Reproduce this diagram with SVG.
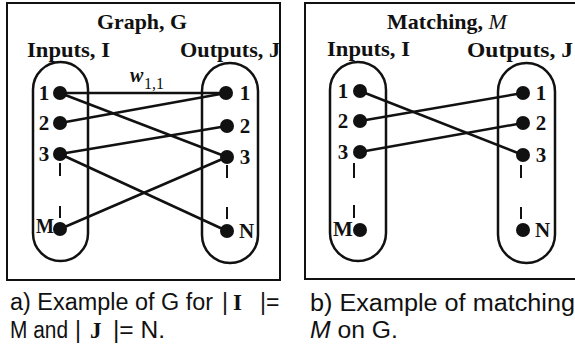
<svg xmlns="http://www.w3.org/2000/svg" width="575" height="352" viewBox="0 0 575 352">
<style>
.frame{fill:none;stroke:#111;stroke-width:2}
.cap{fill:none;stroke:#111;stroke-width:2.5}
.edge{stroke:#111;stroke-width:2.5;fill:none}
.tick{stroke:#111;stroke-width:2}
.dot{fill:#111}
.ttl{font-family:"Liberation Serif",serif;font-weight:bold;font-size:22px;fill:#111}
.hd{font-family:"Liberation Serif",serif;font-weight:bold;font-size:21px;fill:#111}
.num{font-family:"Liberation Serif",serif;font-weight:bold;font-size:21px;fill:#111}
.capt{font-family:"Liberation Sans",Arial,sans-serif;font-size:23px;fill:#111}
.capb{font-family:"Liberation Serif",serif;font-weight:bold;font-size:23px;fill:#111}
</style>
<rect width="575" height="352" fill="#fff"/>
<g id="panelA">
<rect class="frame" x="7" y="3" width="273" height="277"/>
<text class="ttl" x="97" y="29" textLength="90" lengthAdjust="spacingAndGlyphs">Graph, G</text>
<text class="hd" x="27" y="57" textLength="83" lengthAdjust="spacingAndGlyphs">Inputs, I</text>
<text class="hd" x="180" y="57" textLength="100" lengthAdjust="spacingAndGlyphs">Outputs, J</text>
</g>
<g id="inputsA">
<rect class="cap" x="33" y="62" width="55" height="199" rx="27.5"/>
<line class="tick" x1="60" y1="163" x2="60" y2="176"/>
<line class="tick" x1="60" y1="206" x2="60" y2="218"/>
</g>
<g id="outputsA">
<rect class="cap" x="202" y="63" width="56" height="200" rx="28"/>
<line class="tick" x1="227" y1="165" x2="227" y2="178"/>
<line class="tick" x1="227" y1="207" x2="227" y2="219"/>
</g>
<g id="connectorsA">
<line class="edge" x1="60" y1="93" x2="226" y2="93"/>
<line class="edge" x1="60" y1="93" x2="227" y2="157"/>
<line class="edge" x1="60" y1="123" x2="226" y2="93"/>
<line class="edge" x1="60" y1="154" x2="227" y2="126"/>
<line class="edge" x1="60" y1="154" x2="227" y2="231"/>
<line class="edge" x1="60" y1="229" x2="227" y2="157"/>
</g>
<g id="nodeA_I1"><circle class="dot" cx="60" cy="93" r="7"/><text class="num" x="44" y="100" text-anchor="middle">1</text></g>
<g id="nodeA_I2"><circle class="dot" cx="60" cy="123" r="7"/><text class="num" x="44" y="130" text-anchor="middle">2</text></g>
<g id="nodeA_I3"><circle class="dot" cx="60" cy="154" r="7"/><text class="num" x="44" y="161" text-anchor="middle">3</text></g>
<g id="nodeA_IM"><circle class="dot" cx="60" cy="229" r="7"/><text class="num" x="36" y="233" font-size="20" textLength="18" lengthAdjust="spacingAndGlyphs">M</text></g>
<g id="nodeA_O1"><circle class="dot" cx="226" cy="93" r="7"/><text class="num" x="245" y="100" text-anchor="middle">1</text></g>
<g id="nodeA_O2"><circle class="dot" cx="227" cy="126" r="7"/><text class="num" x="245" y="133" text-anchor="middle">2</text></g>
<g id="nodeA_O3"><circle class="dot" cx="227" cy="157" r="7"/><text class="num" x="245" y="164" text-anchor="middle">3</text></g>
<g id="nodeA_ON"><circle class="dot" cx="227" cy="231" r="7"/><text class="num" x="239" y="238" font-size="19">N</text></g>
<g id="labelW">
<text x="130" y="82" font-family="Liberation Serif,serif" font-style="italic" font-weight="bold" font-size="20" fill="#111">w</text>
<text x="144" y="89" font-family="Liberation Serif,serif" font-size="16" fill="#111">1,1</text>
</g>

<g id="panelB">
<rect class="frame" x="305" y="3" width="275" height="276"/>
<text class="ttl" x="447" y="29" text-anchor="middle">Matching, <tspan font-style="italic" font-weight="normal">M</tspan></text>
<text class="hd" x="327" y="56" textLength="83" lengthAdjust="spacingAndGlyphs">Inputs, I</text>
<text class="hd" x="467" y="57" textLength="106" lengthAdjust="spacingAndGlyphs">Outputs, J</text>
</g>
<g id="inputsB">
<rect class="cap" x="330" y="62" width="56" height="199" rx="28"/>
<line class="tick" x1="354" y1="163" x2="354" y2="178"/>
<line class="tick" x1="354" y1="205" x2="354" y2="218"/>
</g>
<g id="outputsB">
<rect class="cap" x="498" y="63" width="57" height="200" rx="28.5"/>
<line class="tick" x1="521" y1="165" x2="521" y2="178"/>
<line class="tick" x1="521" y1="207" x2="521" y2="219"/>
</g>
<g id="connectorsB">
<line class="edge" x1="360" y1="91" x2="523" y2="155"/>
<line class="edge" x1="360" y1="121" x2="523" y2="93"/>
<line class="edge" x1="360" y1="152" x2="523" y2="123"/>
</g>
<g id="nodeB_I1"><circle class="dot" cx="360" cy="91" r="7"/><text class="num" x="343" y="98" text-anchor="middle">1</text></g>
<g id="nodeB_I2"><circle class="dot" cx="360" cy="121" r="7"/><text class="num" x="343" y="128" text-anchor="middle">2</text></g>
<g id="nodeB_I3"><circle class="dot" cx="360" cy="152" r="7"/><text class="num" x="343" y="159" text-anchor="middle">3</text></g>
<g id="nodeB_IM"><circle class="dot" cx="360" cy="230" r="7"/><text class="num" x="333" y="236" font-size="19">M</text></g>
<g id="nodeB_O1"><circle class="dot" cx="523" cy="93" r="7"/><text class="num" x="541" y="100" text-anchor="middle">1</text></g>
<g id="nodeB_O2"><circle class="dot" cx="523" cy="123" r="7"/><text class="num" x="541" y="130" text-anchor="middle">2</text></g>
<g id="nodeB_O3"><circle class="dot" cx="523" cy="155" r="7"/><text class="num" x="541" y="162" text-anchor="middle">3</text></g>
<g id="nodeB_ON"><circle class="dot" cx="523" cy="230" r="7"/><text class="num" x="535" y="237" font-size="19">N</text></g>

<g id="captions">
<text class="capt" x="10" y="310" textLength="203" lengthAdjust="spacingAndGlyphs">a) Example of G for</text>
<text class="capt" x="222" y="310">|</text>
<text class="capb" x="233" y="310">I</text>
<text class="capt" x="260" y="310">|=</text>
<text class="capt" x="10" y="338" textLength="58" lengthAdjust="spacingAndGlyphs">M and</text>
<text class="capt" x="75" y="338">|</text>
<text class="capb" x="90" y="338">J</text>
<text class="capt" x="113" y="338" textLength="52" lengthAdjust="spacingAndGlyphs">|= N.</text>
<text class="capt" x="310" y="311" textLength="265" lengthAdjust="spacingAndGlyphs">b) Example of matching</text>
<text class="capt" x="310" y="338" textLength="88" lengthAdjust="spacingAndGlyphs"><tspan font-style="italic">M</tspan> on G.</text>
</g>
</svg>
